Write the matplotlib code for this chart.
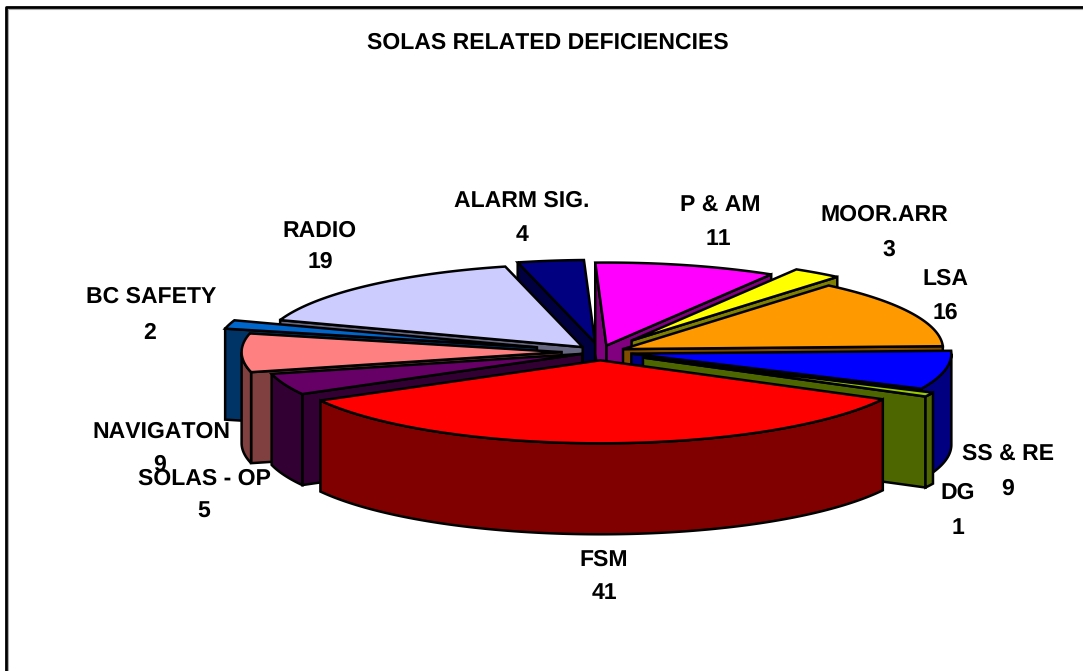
# SOLAS related deficiencies, drawn as an exploded 3D pie
import numpy as np
import matplotlib
matplotlib.use('Agg')
import matplotlib.pyplot as plt

names = ['P & AM', 'MOOR.ARR', 'LSA', 'SS & RE', 'DG', 'FSM', 'SOLAS - OP',
         'NAVIGATON', 'BC SAFETY', 'RADIO', 'ALARM SIG.']
counts = [11, 3, 16, 9, 1, 41, 5, 9, 2, 19, 4]
explode = [0.08, 0.17, 0.08, 0.10, 0.15, 0.10, 0.06, 0.12, 0.205, 0.08, 0.11]
top_colors = ['#FF00FF', '#FFFF00', '#FF9900', '#0000FF', '#99CC00', '#FF0000',
              '#660066', '#FF8080', '#0066CC', '#CCCCFF', '#000080']
wall_colors = ['#800080', '#808000', '#804D00', '#000080', '#4D6600', '#800000',
               '#330033', '#804040', '#003366', '#666680', '#000040']
name_pos = [(720, 206), (884, 215), (945, 279), (1008, 454), (958, 493), (604, 560),
            (204, 479), (161, 432), (151, 297), (320, 231), (522, 201)]
count_pos = [(718, 239), (889, 250), (945, 313), (1008, 489), (958, 528), (604, 593),
             (204, 512), (160, 465), (150, 333), (320, 262), (522, 235)]

cx, cy = 600, 352
rx, ry = 320, 83
depth = 91
start = -2.0
font_size = 16.6

plt.rcParams['font.family'] = ['Liberation Sans', 'DejaVu Sans']
plt.rcParams['text.hinting'] = 'no_hinting'
plt.rcParams['text.kerning_factor'] = 10
fig = plt.figure(figsize=(10.83, 6.71), dpi=100)
ax = fig.add_axes([0, 0, 1, 1])
ax.set_xlim(0, 1083)
ax.set_ylim(671, 0)
ax.axis('off')

# chart frame with its thin grey inner edge
ax.plot([8, 8, 1083], [671, 9, 9], color='#aaaaaa', lw=0.8, solid_capstyle='butt')
ax.plot([6, 6, 1083], [671, 7, 7], color='black', lw=2, solid_capstyle='butt')

ax.text(548, 43, 'SOLAS RELATED DEFICIENCIES', ha='center', va='center',
        fontsize=font_size, fontweight='bold')

edges = start + np.cumsum([0] + counts) / sum(counts) * 360
mids = (edges[:-1] + edges[1:]) / 2


def project(theta, r=1.0):
    t = np.radians(theta)
    return r * rx * np.sin(t), -r * ry * np.cos(t)


def wall(xs, ys, color, z):
    xs = np.asarray(xs)
    ys = np.asarray(ys)
    ax.fill(np.r_[xs, xs[::-1]], np.r_[ys, ys[::-1] + depth], fc=color, ec='black',
            lw=1.8, joinstyle='miter', zorder=z)


# paint from the back of the pie to the front
order = np.argsort(-np.cos(np.radians(mids)))

for z, i in enumerate(order):
    a0, a1 = edges[i], edges[i + 1]
    ox, oy = project(mids[i], explode[i])
    ox += cx
    oy += cy
    arc = np.linspace(a0, a1, max(int(a1 - a0) * 2, 4))
    arc_x, arc_y = project(arc)
    arc_x = arc_x + ox
    arc_y = arc_y + oy

    # radial walls that face the viewer
    if np.cos(np.radians(a0 - 90)) < 0:
        wall([ox, arc_x[0]], [oy, arc_y[0]], wall_colors[i], z * 3)
    if np.cos(np.radians(a1 + 90)) < 0:
        wall([ox, arc_x[-1]], [oy, arc_y[-1]], wall_colors[i], z * 3)

    # outer rim, front half only
    front = np.cos(np.radians(arc)) < 0
    if front.sum() > 1:
        wall(arc_x[front], arc_y[front], wall_colors[i], z * 3 + 1)

    ax.fill(np.r_[ox, arc_x], np.r_[oy, arc_y], fc=top_colors[i], ec='black', lw=1.8,
            joinstyle='miter', zorder=z * 3 + 2)

for name, count, p, q in zip(names, counts, name_pos, count_pos):
    ax.text(p[0], p[1], name, ha='center', va='center', fontsize=font_size,
            fontweight='bold', zorder=100)
    ax.text(q[0], q[1], str(count), ha='center', va='center', fontsize=font_size,
            fontweight='bold', zorder=100)

fig.savefig('out.png', dpi=100)
